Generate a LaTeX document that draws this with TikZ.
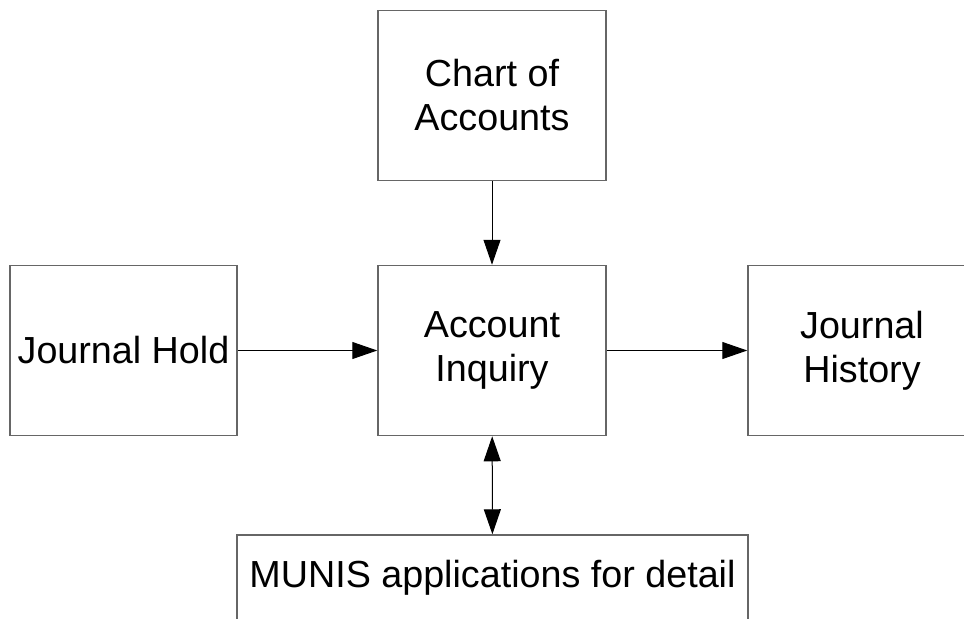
\documentclass[tikz,border=0pt]{standalone}
\usepackage{fontspec}
\setmainfont{Liberation Sans}
\usetikzlibrary{positioning, arrows.meta}

\begin{document}
\begin{tikzpicture}[x=0.5pt, y=-0.5pt,
    block/.style={draw=black!60, line width=0.75pt, minimum width=114pt,
                  minimum height=85pt, align=center, inner sep=0pt,
                  font=\fontsize{18.85}{22}\selectfont},
    link/.style={-{Triangle[length=12.5pt, width=8.5pt]}, line width=0.5pt}]
    \useasboundingbox (0,0) rectangle (964,618);
    \clip (0,0) rectangle (964,618);
    \node[block] (chart) at (492,95.5) {Chart of\\Accounts};
    \node[block] (inquiry) at (492,350.5) {Account\\Inquiry};
    \node[block, minimum width=113.5pt] (hold) at (123.5,350.5) {Journal Hold};
    \node[block] (history) at (862,350.5) {Journal\\History};
    \node[block, minimum width=255.5pt, minimum height=0pt,
          text height=26pt, text depth=24pt]
      (munis) at (492.5,585) {MUNIS applications for detail};
    \draw[link] (chart) -- (inquiry);
    \draw[link] (hold) -- (inquiry);
    \draw[link] (inquiry) -- (history);
    \draw[line width=0.5pt, {Triangle[length=12.5pt, width=8.5pt]}-{Triangle[length=12.5pt, width=8.5pt]}]
      (inquiry) -- (munis);
\end{tikzpicture}
\end{document}
